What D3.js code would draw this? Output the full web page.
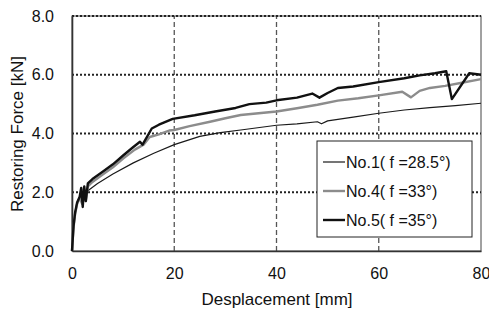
<!DOCTYPE html>
<html>
<head>
<meta charset="utf-8">
<script src="https://cdn.jsdelivr.net/npm/d3@7"></script>
<style>
  body { margin: 0; background: #fff; }
  text { font-family: Arial, "Liberation Sans", sans-serif; fill: #111; }
</style>
</head>
<body>
<div id="chart"></div>
<script>
// displacement [mm] / restoring force [kN]
let no1Disp  = [0, 0.3, 0.6, 1.0, 1.5, 2.0, 2.5, 3.1, 5, 8, 12, 16, 20, 25, 29, 33, 40, 44, 48, 48.8, 50, 55, 60, 65, 70, 75, 80];
let no1Force = [0, 0.8, 1.3, 1.65, 1.85, 1.95, 2.0, 2.05, 2.3, 2.62, 3.0, 3.33, 3.62, 3.9, 4.03, 4.12, 4.28, 4.33, 4.4, 4.33, 4.43, 4.56, 4.69, 4.8, 4.88, 4.95, 5.03];

let no4Disp  = [0, 0.3, 0.6, 1.0, 1.5, 2.0, 2.3, 2.7, 3.1, 4, 6, 8, 10, 12.3, 14, 15.2, 17, 19, 20, 23, 27, 30, 33, 36, 40, 44, 48, 52, 56, 60, 64.6, 66.3, 68, 70, 73, 76, 80];
let no4Force = [0, 0.8, 1.25, 1.6, 1.8, 1.6, 2.1, 1.7, 2.2, 2.35, 2.6, 2.85, 3.15, 3.45, 3.62, 3.88, 3.97, 4.1, 4.12, 4.25, 4.4, 4.52, 4.63, 4.68, 4.75, 4.86, 4.98, 5.12, 5.2, 5.3, 5.42, 5.23, 5.45, 5.55, 5.62, 5.72, 5.85];

let no5Disp  = [0, 0.3, 0.6, 1.0, 1.5, 1.8, 2.1, 2.4, 2.7, 3.1, 4, 6, 8, 10, 12, 13.3, 13.8, 15.6, 17, 19.7, 24, 28, 32, 34.7, 38, 40, 44, 47, 48.4, 50, 52, 55, 60, 65, 68, 71, 73.2, 74.3, 77.7, 80];
let no5Force = [0, 0.85, 1.3, 1.65, 1.85, 2.15, 1.5, 2.2, 1.7, 2.3, 2.45, 2.7, 2.95, 3.25, 3.54, 3.72, 3.62, 4.17, 4.3, 4.5, 4.62, 4.75, 4.87, 5.0, 5.05, 5.13, 5.22, 5.36, 5.22, 5.38, 5.55, 5.6, 5.75, 5.88, 5.98, 6.05, 6.12, 5.17, 6.05, 6.0];

let xTicks = [0, 20, 40, 60, 80];
let yTicks = [0, 2, 4, 6, 8];
let seriesNames = ["No.1( f =28.5°)", "No.4( f =33°)", "No.5( f =35°)"];

let w = 489, h = 311;
let margin = {left: 72, top: 16, right: 8, bottom: 60};

let svg = d3.select("#chart")
            .append("svg")
            .attr("width", w)
            .attr("height", h);

let xScale = d3.scaleLinear()
               .domain([0, 80])
               .range([margin.left, w - margin.right]);

let yScale = d3.scaleLinear()
               .domain([0, 8])
               .range([h - margin.bottom, margin.top]);

// grid: dashed verticals, dotted horizontals
svg.append("g")
   .selectAll("line")
   .data(xTicks.filter(d => d > 0 && d < 80))
   .enter()
   .append("line")
   .attr("x1", d => xScale(d))
   .attr("x2", d => xScale(d))
   .attr("y1", yScale(0))
   .attr("y2", yScale(8))
   .attr("stroke", "#555")
   .attr("stroke-width", 1.3)
   .attr("stroke-dasharray", "5,3");

// frame
svg.append("rect")
   .attr("x", xScale(0))
   .attr("y", yScale(8))
   .attr("width", xScale(80) - xScale(0))
   .attr("height", yScale(0) - yScale(8))
   .attr("fill", "none")
   .attr("stroke", "#444")
   .attr("stroke-width", 1);

svg.append("g")
   .selectAll("line")
   .data(yTicks.filter(d => d > 0))
   .enter()
   .append("line")
   .attr("x1", xScale(0))
   .attr("x2", xScale(80))
   .attr("y1", d => yScale(d))
   .attr("y2", d => yScale(d))
   .attr("stroke", "#222")
   .attr("stroke-width", 2)
   .attr("stroke-dasharray", "2,2");

// axes (no tick marks, only labels)
let xAxis = d3.axisBottom(xScale)
              .tickValues(xTicks)
              .tickSize(0)
              .tickPadding(17)
              .tickFormat(d3.format("d"));

svg.append("g")
   .attr("transform", "translate(0," + yScale(0) + ")")
   .call(xAxis)
   .call(g => g.select(".domain").attr("stroke", "#333").attr("stroke-width", 1.6))
   .call(g => g.selectAll("text").style("font-size", "16px").attr("fill", "#111"));

let yAxis = d3.axisLeft(yScale)
              .tickValues(yTicks)
              .tickSize(0)
              .tickPadding(18)
              .tickFormat(d3.format(".1f"));

svg.append("g")
   .attr("transform", "translate(" + xScale(0) + ",0)")
   .call(yAxis)
   .call(g => g.select(".domain").attr("stroke", "#333").attr("stroke-width", 1.6))
   .call(g => g.selectAll("text").style("font-size", "16px").attr("fill", "#111"));

// curves
function makePoints(xs, ys) {
    return xs.map((d, i) => [d, ys[i]]);
}

let line = d3.line()
             .x(d => xScale(d[0]))
             .y(d => yScale(d[1]));

let series = [
    {pts: makePoints(no1Disp, no1Force), color: "#1a1a1a", width: 1.2},
    {pts: makePoints(no4Disp, no4Force), color: "#8c8c8c", width: 2.4},
    {pts: makePoints(no5Disp, no5Force), color: "#111", width: 2.4}
];

svg.append("g")
   .selectAll("path")
   .data(series)
   .enter()
   .append("path")
   .attr("d", d => line(d.pts))
   .attr("fill", "none")
   .attr("stroke", d => d.color)
   .attr("stroke-width", d => d.width)
   .attr("stroke-linejoin", "round");

// legend
let legend = svg.append("g")
                .attr("transform", "translate(317,141)");

legend.append("rect")
      .attr("width", 155)
      .attr("height", 96)
      .attr("fill", "#fff")
      .attr("stroke", "#222")
      .attr("stroke-width", 1);

series.forEach((s, i) => {
    let y = 21 + i * 29;
    legend.append("line")
          .attr("x1", 6)
          .attr("x2", 28)
          .attr("y1", y)
          .attr("y2", y)
          .attr("stroke", s.color)
          .attr("stroke-width", s.width);
    legend.append("text")
          .attr("x", 29)
          .attr("y", y)
          .attr("dy", "0.35em")
          .style("font-size", "16px")
          .text(seriesNames[i]);
});

// axis titles
svg.append("text")
   .attr("x", 277)
   .attr("y", 305)
   .attr("text-anchor", "middle")
   .style("font-size", "17px")
   .text("Desplacement [mm]");

svg.append("text")
   .attr("transform", "translate(23," + 134 + ") rotate(-90)")
   .attr("text-anchor", "middle")
   .style("font-size", "17px")
   .text("Restoring Force [kN]");
</script>
</body>
</html>
